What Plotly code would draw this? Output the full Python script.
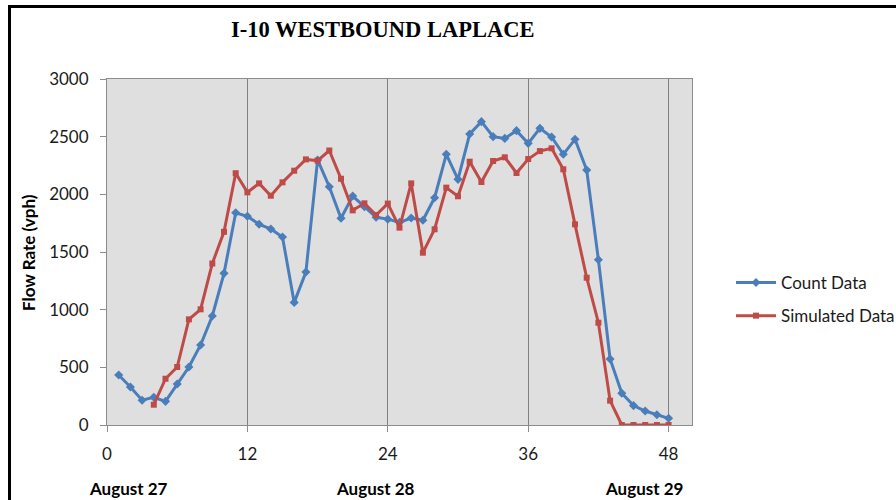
import plotly.graph_objects as go

count_hours = list(range(1, 49))
count_data = [433, 330, 215, 240, 205, 355, 503, 694, 945, 1315,
              1840, 1810, 1740, 1700, 1630, 1063, 1326, 2298, 2066, 1792,
              1985, 1893, 1801, 1785, 1757, 1795, 1775, 1971, 2347, 2130,
              2523, 2630, 2500, 2485, 2552, 2442, 2572, 2497, 2347, 2477,
              2211, 1433, 572, 275, 168, 121, 89, 58]

sim_hours = list(range(4, 49))
sim_data = [176, 401, 503, 916, 1003, 1400, 1675, 2183, 2017, 2095,
            1988, 2104, 2205, 2303, 2292, 2380, 2135, 1861, 1922, 1821,
            1920, 1711, 2095, 1494, 1697, 2058, 1983, 2283, 2107, 2289,
            2321, 2185, 2306, 2375, 2399, 2217, 1740, 1277, 887, 211,
            0, 0, 0, 0, 0]

x_ticks = [0, 12, 24, 36, 48]
y_ticks = [0, 500, 1000, 1500, 2000, 2500, 3000]
day_labels = ["August 27", "August 28", "August 29"]
title_text = "I-10 WESTBOUND LAPLACE"
y_title = "Flow Rate (vph)"

BLUE = "#4a7ebb"
RED = "#be4b48"
FONT = "Lato, 'Open Sans', sans-serif"

fig = go.Figure()
fig.add_trace(go.Scatter(
    x=count_hours, y=count_data, name="Count Data", mode="lines+markers",
    line=dict(color=BLUE, width=3), marker=dict(symbol="diamond", size=7, color=BLUE),
    legendgroup="a"))
fig.add_trace(go.Scatter(
    x=sim_hours, y=sim_data, name="Simulated Data", mode="lines+markers",
    line=dict(color=RED, width=3), marker=dict(symbol="square", size=6, color=RED),
    legendgroup="b"))

L, R, T, B = 107, 204, 79, 75
W, H = 896, 500
pw, ph = W - L - R, H - T - B

def px(x):
    return (x - L) / pw

def py(y):
    return (H - B - y) / ph

fig.update_layout(
    width=W, height=H, autosize=False,
    margin=dict(l=L, r=R, t=T, b=B, autoexpand=False),
    paper_bgcolor="white",
    plot_bgcolor="#dfdfdf",
    font=dict(family=FONT, size=17, color="#1a1a1a"),
    hovermode=False,
    legend=dict(x=px(731), y=py(265), xanchor="left", yanchor="top",
                font=dict(family=FONT, size=17, color="#1a1a1a"),
                tracegroupgap=8, bgcolor="rgba(0,0,0,0)", itemwidth=40),
    xaxis=dict(range=[0, 50], tickvals=x_ticks, ticktext=[str(v) for v in x_ticks],
               showgrid=True, gridcolor="#808080", gridwidth=1,
               showline=True, linecolor="#8c8c8c", linewidth=1, mirror=True,
               ticks="outside", ticklen=6, tickcolor="#8c8c8c",
               ticklabelstandoff=8, zeroline=False,
               tickfont=dict(family=FONT, size=17, color="#1a1a1a")),
    yaxis=dict(range=[0, 3000], tickvals=y_ticks,
               showgrid=False,
               showline=True, linecolor="#8c8c8c", linewidth=1, mirror=True,
               ticks="outside", ticklen=6, tickcolor="#8c8c8c",
               ticklabelstandoff=8, zeroline=False,
               tickfont=dict(family=FONT, size=17, color="#1a1a1a")),
)

annotations = [
    dict(text="<b>" + title_text + "</b>", x=px(382), y=py(30), xref="paper", yref="paper",
         showarrow=False, xanchor="center", yanchor="middle",
         font=dict(family="'Liberation Serif', 'Times New Roman', serif", size=22.5, color="black")),
    dict(text="<b>" + y_title + "</b>", x=px(28), y=py(253), xref="paper", yref="paper",
         showarrow=False, textangle=-90, xanchor="center", yanchor="middle",
         font=dict(family=FONT, size=17, color="black")),
]
for lbl, cx in zip(day_labels, [128, 375, 644]):
    annotations.append(dict(text="<b>" + lbl + "</b>", x=px(cx), y=py(488), xref="paper", yref="paper",
                            showarrow=False, xanchor="center", yanchor="middle",
                            font=dict(family=FONT, size=17, color="black")))
fig.update_layout(annotations=annotations)

fig.add_shape(type="rect", xref="paper", yref="paper",
              x0=px(9.5), x1=px(905), y0=py(510), y1=py(6.5),
              line=dict(color="black", width=3), fillcolor="rgba(0,0,0,0)", layer="above")

fig.write_html("out.html",
               config={"responsive": False, "displayModeBar": False, "staticPlot": True},
               post_script="document.body.style.margin='0';document.body.style.overflow='hidden';")
